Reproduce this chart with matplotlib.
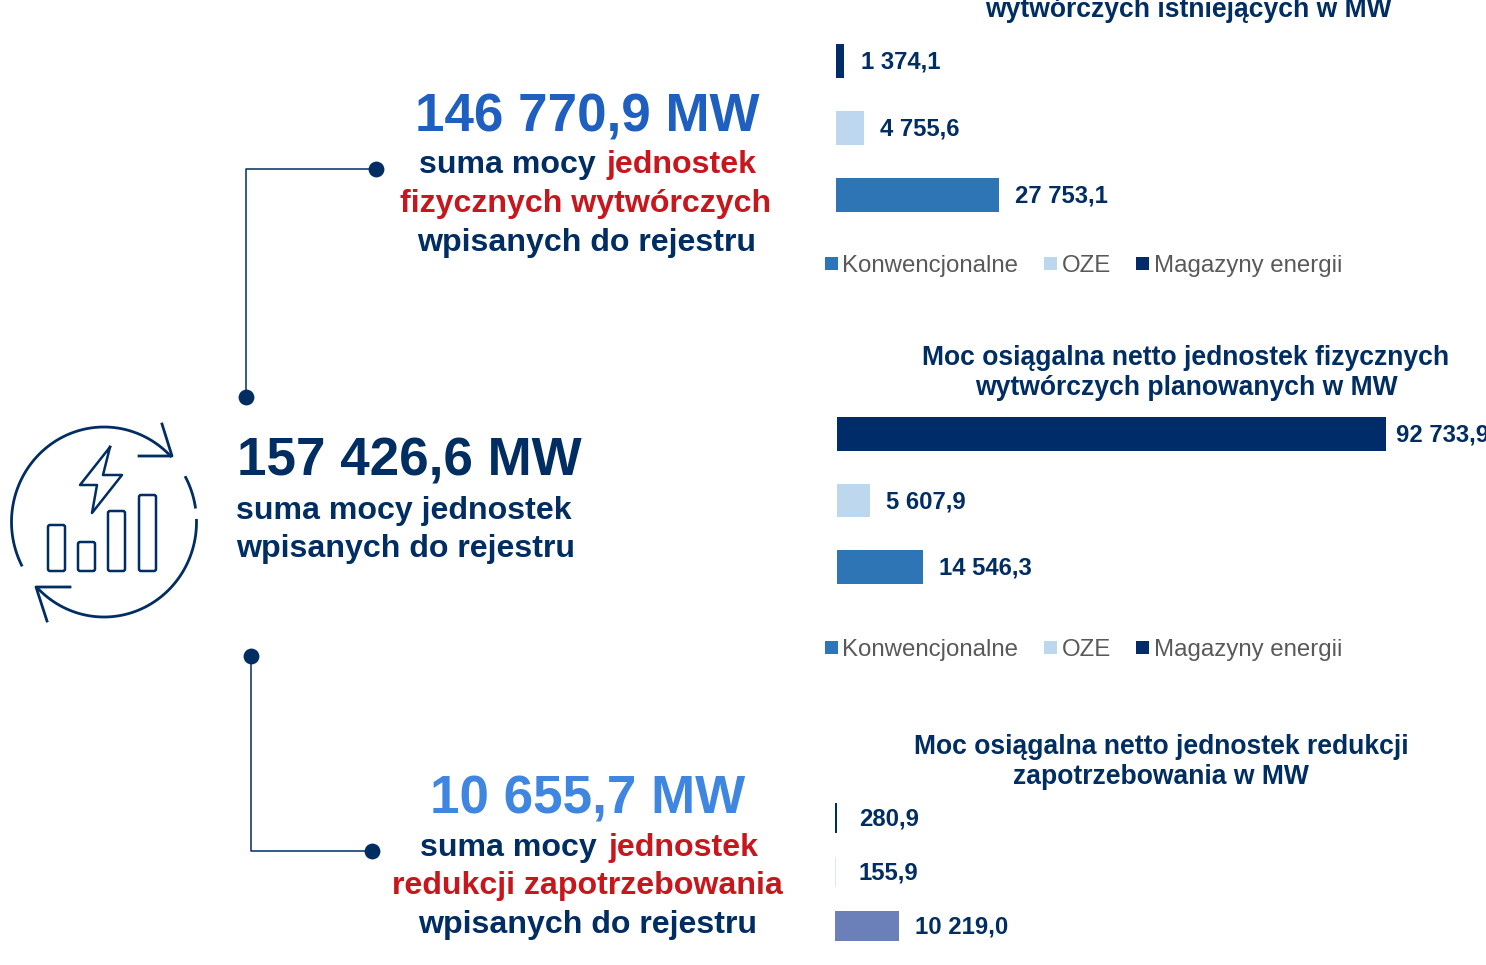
import matplotlib
matplotlib.use("Agg")
import matplotlib.pyplot as plt
import numpy as np
from matplotlib.patches import FancyBboxPatch

plt.rcParams['font.family'] = ['Liberation Sans', 'DejaVu Sans']

W, H = 1486, 965
NAVY = '#002d62'
GRAY = '#595959'
RED = '#c8161d'

# dane
istniejace = [1374.1, 4755.6, 27753.1]
planowane = [92733.9, 5607.9, 14546.3]
redukcja = [280.9, 155.9, 10219.0]
kolory = ['#002d6a', '#bdd7ee', '#2e75b6']
kolory_red = ['#002d6a', '#dce6f2', '#6b7fb8']
legenda = ['Konwencjonalne', 'OZE', 'Magazyny energii']
legenda_kolory = ['#2e75b6', '#bdd7ee', '#002d6a']


def fmt(v):
    s = f"{v:,.1f}"
    return s.replace(',', ' ').replace('.', ',')


def bars(x0, x1, y_top, y_bot, vals, cols, xmax, bar_h, gaps):
    # osie w pikselach rysunku
    ax = fig.add_axes([x0 / W, 1 - y_bot / H, (x1 - x0) / W, (y_bot - y_top) / H])
    ypos = np.arange(len(vals))
    ax.barh(ypos, vals, height=bar_h, color=cols)
    ax.set_xlim(0, xmax)
    ax.set_ylim(len(vals) - 0.5, -0.5)
    ax.axis('off')
    for y, v, g in zip(ypos, vals, gaps):
        ax.annotate(fmt(v), (v, y), xytext=(g, -1), textcoords='offset pixels',
                    va='center', ha='left', fontsize=17.2, fontweight='bold',
                    color=NAVY, annotation_clip=False)
    return ax


def t(x, y, s, size, color=NAVY, ha='center', weight='bold'):
    return bg.text(x, y, s, fontsize=size, color=color, ha=ha, va='center', fontweight=weight)


def legend_row(y, xs):
    for x, n, c in zip(xs, legenda, legenda_kolory):
        bg.add_patch(plt.Rectangle((x, y - 7), 13, 13, color=c, lw=0))
        bg.text(x + 17.5, y + 2, n, fontsize=17.3, color=GRAY, va='center', ha='left')


fig = plt.figure(figsize=(W / 100, H / 100), dpi=100)
bg = fig.add_axes([0, 0, 1, 1])
bg.set_xlim(0, W)
bg.set_ylim(H, 0)
bg.axis('off')

# lewa strona - teksty
t(587, 117, '146 770,9 MW', 38.2, '#1f5fbf')
t(419, 165, 'suma mocy', 23.1, ha='left')
t(606, 165, 'jednostek', 23.1, RED, ha='left')
t(586, 204, 'fizycznych wytwórczych', 23.1, RED)
t(587, 243, 'wpisanych do rejestru', 23.1)
t(237, 462, '157 426,6 MW', 38.2, ha='left')
t(236, 511, 'suma mocy jednostek', 23.1, ha='left')
t(236, 549, 'wpisanych do rejestru', 23.1, ha='left')
t(588, 799, '10 655,7 MW', 38.2, '#3f86e0')
t(420, 848, 'suma mocy', 23.1, ha='left')
t(608, 848, 'jednostek', 23.1, RED, ha='left')
t(587, 886, 'redukcji zapotrzebowania', 23.1, RED)
t(588, 925, 'wpisanych do rejestru', 23.1)

# linie z kropkami
bg.plot([376, 246, 246], [169, 169, 397], color=NAVY, lw=1.1)
bg.plot([251, 251, 372], [656, 851, 851], color=NAVY, lw=1.1)
bg.scatter([376, 246, 251, 372], [169, 397, 656, 851], s=130, color=NAVY, zorder=3, lw=0)

# ikona
cx, cy = 104, 522
for a, b in [(-207, -44), (-28, -9), (-1, 136)]:
    th = np.radians(np.linspace(a, b, 80))
    bg.plot(cx + 92.5 * np.cos(th), cy + 95 * np.sin(th), color=NAVY, lw=2.0)
bg.plot([162, 172, 139], [424, 456, 456], color=NAVY, lw=2.0)
bg.plot([47, 36, 70], [621, 587, 587], color=NAVY, lw=2.0)
bg.plot([110, 80, 97, 92, 122, 103, 110], [447, 485, 485, 513, 475, 475, 447], color=NAVY, lw=1.8)
for x, y, w, h in [(48, 525, 17, 46), (78, 542, 17, 29), (108, 511, 17, 60), (139, 495, 17, 76)]:
    bg.add_patch(FancyBboxPatch((x, y), w, h, boxstyle='round,pad=0,rounding_size=2',
                                fc='none', ec=NAVY, lw=1.8))

# wykres 1
t(1188, 10, 'wytwórczych istniejących w MW', 19.1)
bars(836, 1486, 27, 229, istniejace, kolory, 650 / 0.00587, 0.505, [17, 16, 16])
legend_row(264, [825, 1044, 1136])

# wykres 2
t(1186, 358, 'Moc osiągalna netto jednostek fizycznych', 19.1)
t(1186, 388, 'wytwórczych planowanych w MW', 19.1)
bars(837, 1486, 401, 600, planowane, kolory, 649 / 0.00592, 0.51, [10, 16, 16])
legend_row(648, [825, 1044, 1136])

# wykres 3
t(1161, 747, 'Moc osiągalna netto jednostek redukcji', 19.1)
t(1161, 777, 'zapotrzebowania w MW', 19.1)
bars(835, 1486, 791, 953, redukcja, kolory_red, 651 / 0.00626, 0.54, [22, 23, 16])

fig.savefig('out.png', dpi=100)
